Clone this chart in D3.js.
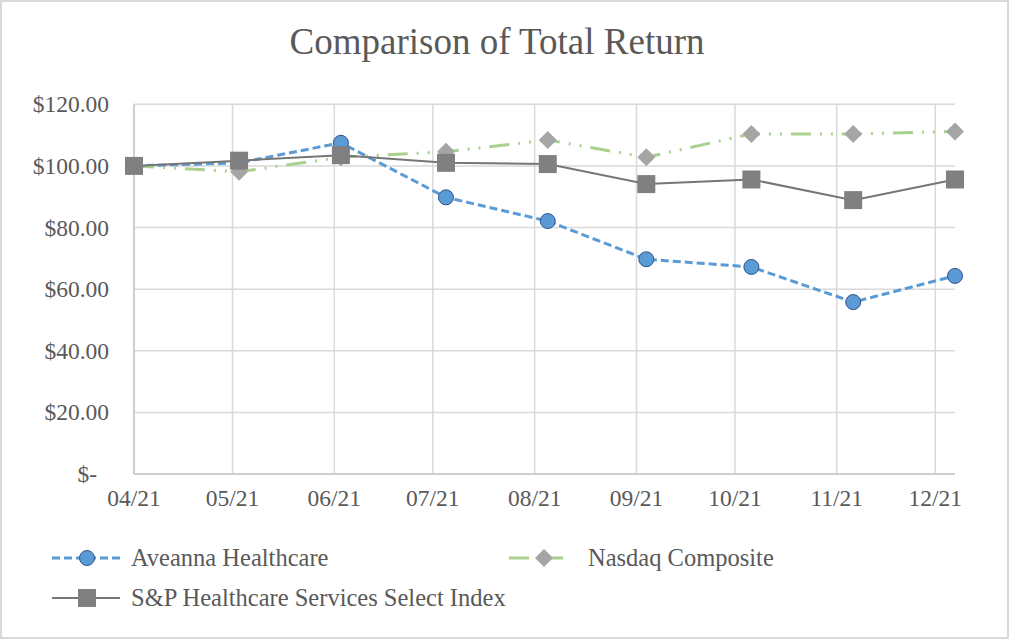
<!DOCTYPE html>
<html>
<head>
<meta charset="utf-8">
<script src="https://cdn.jsdelivr.net/npm/d3@7"></script>
</head>
<body style="margin:0">
<div id="chart"></div>
<script>
// data
var dates = ["2021-04-01", "2021-05-03", "2021-06-03", "2021-07-05", "2021-08-05",
             "2021-09-04", "2021-10-06", "2021-11-06", "2021-12-07"];
var aveanna = [100.0, 101.0, 107.5, 89.8, 82.1, 69.7, 67.2, 55.8, 64.3];
var nasdaq = [100.0, 98.1, 102.8, 104.6, 108.4, 102.8, 110.4, 110.4, 111.2];
var spHealth = [100.0, 101.7, 103.5, 101.0, 100.6, 94.1, 95.6, 88.9, 95.6];
var seriesNames = ["Aveanna Healthcare", "Nasdaq Composite", "S&P Healthcare Services Select Index"];
var yTicks = [0, 20, 40, 60, 80, 100, 120];
var title = "Comparison of Total Return";

var width = 1010, height = 640;
var margin = { top: 104.3, right: 55, bottom: 166, left: 134 };

var svg = d3.select("#chart")
    .append("svg")
    .attr("width", width)
    .attr("height", height)
    .style("font-family", "\"Liberation Serif\"");

// serif text helper
function label(sel, size) {
    return sel.style("font-family", "\"Liberation Serif\"")
        .attr("font-size", size)
        .attr("fill", "#595959");
}

// chart frame
svg.append("rect")
    .attr("x", 1).attr("y", 1)
    .attr("width", width - 3).attr("height", height - 3)
    .attr("fill", "#fff")
    .attr("stroke", "#d9d9d9")
    .attr("stroke-width", 2);

label(svg.append("text"), 37)
    .attr("x", 497)
    .attr("y", 54)
    .attr("text-anchor", "middle")
    .text(title);

var parse = d3.utcParse("%Y-%m-%d");
var xDates = dates.map(parse);

var x = d3.scaleUtc()
    .domain([xDates[0], xDates[xDates.length - 1]])
    .range([margin.left, width - margin.right]);

var y = d3.scaleLinear()
    .domain([0, 120])
    .range([height - margin.bottom, margin.top]);

var monthTicks = d3.utcMonth.range(xDates[0], d3.utcDay.offset(xDates[xDates.length - 1], 1));

var g = svg.append("g");

// horizontal gridlines
g.selectAll(".hgrid")
    .data(yTicks.filter(function (d) { return d > 0; }))
    .enter().append("line")
    .attr("x1", x.range()[0]).attr("x2", x.range()[1])
    .attr("y1", function (d) { return y(d); })
    .attr("y2", function (d) { return y(d); })
    .attr("stroke", "#d9d9d9")
    .attr("stroke-width", 1.5);

// vertical gridlines at month starts
g.selectAll(".vgrid")
    .data(monthTicks.slice(1))
    .enter().append("line")
    .attr("x1", function (d) { return x(d); })
    .attr("x2", function (d) { return x(d); })
    .attr("y1", y(0)).attr("y2", y(120))
    .attr("stroke", "#d9d9d9")
    .attr("stroke-width", 1.5);

// axis lines
g.append("line")
    .attr("x1", x.range()[0]).attr("x2", x.range()[0])
    .attr("y1", y(0)).attr("y2", y(120))
    .attr("stroke", "#bfbfbf").attr("stroke-width", 1.5);
g.append("line")
    .attr("x1", x.range()[0]).attr("x2", x.range()[1])
    .attr("y1", y(0)).attr("y2", y(0))
    .attr("stroke", "#bfbfbf").attr("stroke-width", 1.5);

// y labels
var money = d3.format(",.2f");
label(svg.selectAll(".ylab")
    .data(yTicks)
    .enter().append("text"), 23.5)
    .attr("x", function (d) { return d === 0 ? 97 : 109; })
    .attr("y", function (d) { return y(d) + 8; })
    .attr("text-anchor", "end")
    .text(function (d) { return d === 0 ? "$-" : "$" + money(d); });

// x labels
var mfmt = d3.utcFormat("%m/%y");
label(svg.selectAll(".xlab")
    .data(monthTicks)
    .enter().append("text"), 23.5)
    .attr("x", function (d) { return x(d); })
    .attr("y", 506)
    .attr("text-anchor", "middle")
    .text(function (d) { return mfmt(d); });

var styles = [
    { color: "#5b9bd5", width: 3, dash: "8,4", marker: "circle" },
    { color: "#a9d18e", width: 3, dash: "20,9,2,9,2,9", marker: "diamond" },
    { color: "#767676", width: 2, dash: null, marker: "square" }
];
var allSeries = [aveanna, nasdaq, spHealth];

function drawMarker(sel, type) {
    if (type === "circle") {
        sel.append("circle").attr("r", 7.5)
            .attr("fill", "#5b9bd5").attr("stroke", "#2f528f").attr("stroke-width", 1);
    } else if (type === "diamond") {
        sel.append("path").attr("d", "M0,-9L9,0L0,9L-9,0Z")
            .attr("fill", "#a5a5a5");
    } else {
        sel.append("rect").attr("x", -9).attr("y", -9).attr("width", 18).attr("height", 18)
            .attr("fill", "#808080");
    }
}

var line = d3.line()
    .x(function (d, i) { return x(xDates[i]); })
    .y(function (d) { return y(d); });

allSeries.forEach(function (vals, k) {
    var s = styles[k];
    var sg = svg.append("g");
    sg.append("path")
        .datum(vals)
        .attr("d", line)
        .attr("fill", "none")
        .attr("stroke", s.color)
        .attr("stroke-width", s.width)
        .attr("stroke-dasharray", s.dash);
    sg.selectAll(".m")
        .data(vals)
        .enter().append("g")
        .attr("transform", function (d, i) { return "translate(" + x(xDates[i]) + "," + y(d) + ")"; })
        .each(function () { drawMarker(d3.select(this), s.marker); });
});

// legend
var legendPos = [
    { x: 52, y: 558 },
    { x: 509, y: 558 },
    { x: 52, y: 598 }
];
seriesNames.forEach(function (name, k) {
    var s = styles[k];
    var lg = svg.append("g").attr("transform", "translate(" + legendPos[k].x + "," + legendPos[k].y + ")");
    lg.append("line")
        .attr("x1", 0).attr("x2", 68)
        .attr("y1", 0).attr("y2", 0)
        .attr("stroke", s.color)
        .attr("stroke-width", s.width)
        .attr("stroke-dasharray", k === 1 ? "20,14" : s.dash);
    var m = lg.append("g").attr("transform", "translate(35,0)");
    drawMarker(m, s.marker);
    label(lg.append("text"), 24.5)
        .attr("x", 79)
        .attr("y", 8)
        .text(name);
});
</script>
</body>
</html>
